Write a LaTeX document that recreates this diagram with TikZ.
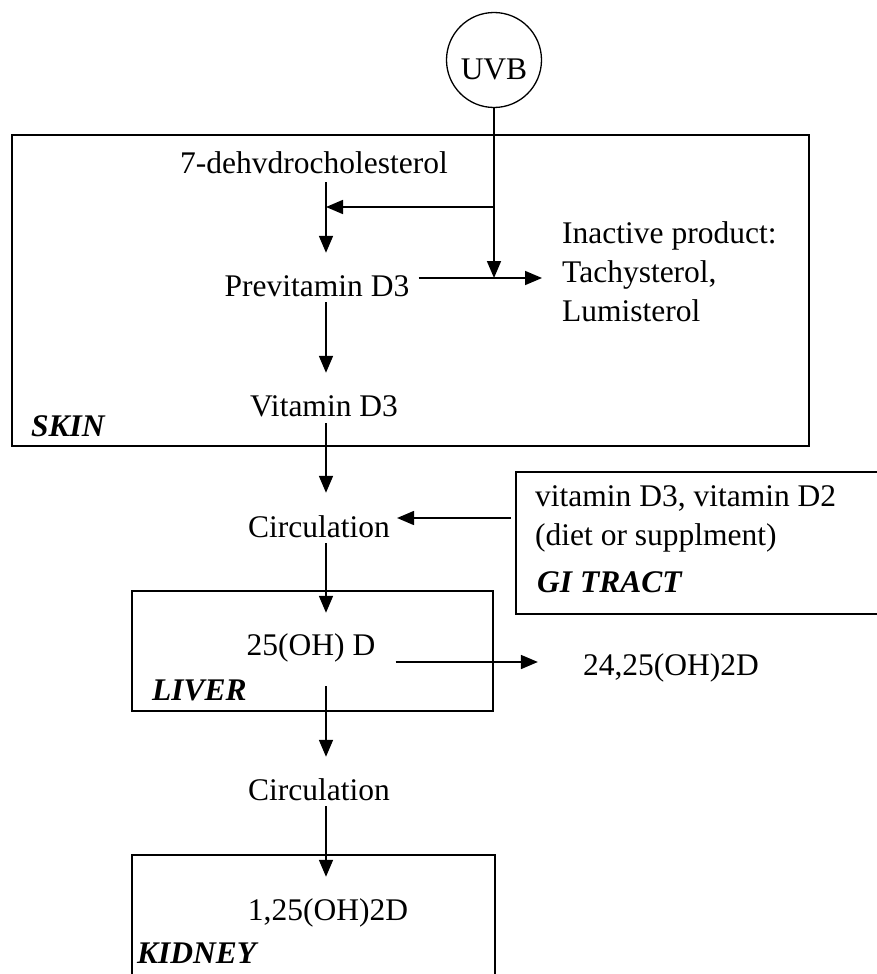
\documentclass[tikz,border=0pt]{standalone}
\usepackage{fontspec}
\setmainfont{Liberation Serif}
\usetikzlibrary{arrows.meta}
\begin{document}
\begin{tikzpicture}[x=1pt,y=-1pt,
  every node/.style={font=\fontsize{31.5}{39}\selectfont},
  txt/.style={inner sep=0pt, text height=22pt, text depth=0pt, anchor=base},
  lbl/.style={inner sep=0pt, anchor=base west, font=\fontsize{31.5}{39}\selectfont\bfseries\itshape},
  boxline/.style={line width=1.6pt},
  arr/.style={line width=1.7pt, -{Triangle[length=17pt,width=14pt]}},
  ln/.style={line width=1.7pt}]
\useasboundingbox (0,0) rectangle (876,974);
% boxes
\draw[boxline] (12,135) rectangle (809,446);
\draw[boxline] (516,472) rectangle (880,614);
\draw[boxline] (132,591) rectangle (493,711);
\draw[boxline] (132,990) -- (132,855) -- (495,855) -- (495,990);
% axis
\coordinate (axis) at (326,0);
% nodes
\node[draw, circle, line width=1.3pt, minimum size=95pt, inner sep=0pt, text height=40pt, text depth=0pt] (uvb) at (494,60) {UVB};
\node[txt] (dehydro) at (314,173) {7-dehvdrocholesterol};
\node[txt] (prev) at (317,296) {Previtamin D3};
\node[inner sep=0pt, anchor=base west, align=left] (inact) at (562,321) {Inactive product:\\Tachysterol,\\Lumisterol};
\node[txt] (vit) at (324,416) {Vitamin D3};
\node[lbl] (skin) at (31,436) {SKIN};
\node[txt] (circ1) at (319,537) {Circulation};
\node[inner sep=0pt, anchor=base west, align=left] (diet) at (535,545) {vitamin D3, vitamin D2\\(diet or supplment)};
\node[lbl] (gi) at (537,592) {GI TRACT};
\node[txt] (oh25) at (311,655) {25(OH) D};
\node[txt] (oh2425) at (671,675) {24,25(OH)2D};
\node[lbl] (liver) at (152,700) {LIVER};
\node[txt] (circ2) at (319,800) {Circulation};
\node[txt] (oh125) at (328,920) {1,25(OH)2D};
\node[lbl] (kidney) at (137,963) {KIDNEY};
% junctions
\coordinate (j1) at (494,207);
\coordinate (j2) at (494,278);
% connectors
\draw[arr] (uvb.south) -- (j2);
\draw[arr] (j1) -- (j1 -| axis);
\draw[arr, shorten <=9pt, shorten >=21pt] (dehydro.south -| axis) -- (prev.north -| axis);
\draw[arr] ([xshift=9pt]prev.east |- j2) -- ([xshift=-20pt]inact.west |- j2);
\draw[arr, shorten <=6pt, shorten >=21pt] (prev.south -| axis) -- (vit.north -| axis);
\draw[arr, shorten <=7pt, shorten >=22pt] (vit.south -| axis) -- (circ1.north -| axis);
\draw[arr] ([xshift=-24pt]diet.west |- 0,518) -- ([xshift=7pt]circ1.east |- 0,518);
\draw[arr, shorten <=6pt, shorten >=20pt] (circ1.south -| axis) -- (oh25.north -| axis);
\draw[arr] ([xshift=20pt]oh25.east |- 0,662) -- ([xshift=-45pt]oh2425.west |- 0,662);
\draw[arr, shorten <=31pt, shorten >=21pt] (oh25.south -| axis) -- (circ2.north -| axis);
\draw[arr, shorten <=6pt, shorten >=21pt] (circ2.south -| axis) -- (oh125.north -| axis);
\end{tikzpicture}
\end{document}
